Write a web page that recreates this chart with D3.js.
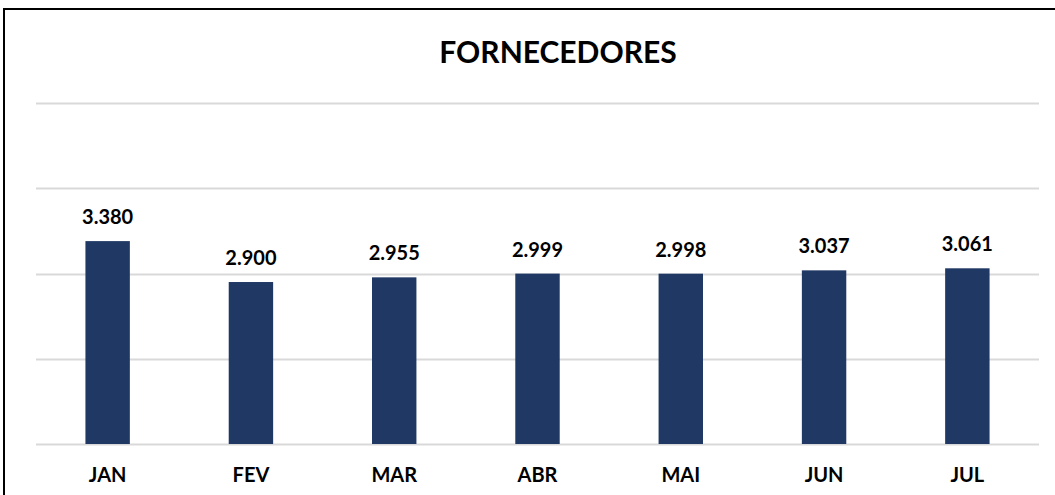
<!DOCTYPE html>
<html>
<head>
<meta charset="utf-8">
<script src="https://cdn.jsdelivr.net/npm/d3@7"></script>
<style>
	body { margin: 0; background: #fff; }
	svg text { font-family: Lato, "Open Sans", sans-serif; font-weight: bold; fill: #000; }
</style>
</head>
<body>
<svg id="chart" width="1055" height="495"></svg>
<script>
var months = ["JAN", "FEV", "MAR", "ABR", "MAI", "JUN", "JUL"];
var fornecedores = [3380, 2900, 2955, 2999, 2998, 3037, 3061];
var gridValues = [1000, 2000, 3000, 4000, 5000];

var svg = d3.select("#chart");

// frame
svg.append("rect")
	.attr("x", 4)
	.attr("y", 9)
	.attr("width", 1060)
	.attr("height", 500)
	.attr("fill", "none")
	.attr("stroke", "#000")
	.attr("stroke-width", 2);

var x = d3.scaleBand()
	.domain(months)
	.range([36, 1039])
	.paddingInner(0.69)
	.paddingOuter(0.345);

var y = d3.scaleLinear()
	.domain([1000, 5000])
	.range([444, 103]);

svg.append("text")
	.attr("x", 558)
	.attr("y", 63)
	.attr("text-anchor", "middle")
	.style("font-size", "30px")
	.text("FORNECEDORES");

svg.selectAll(".grid")
	.data(gridValues)
	.enter().append("line")
	.attr("class", "grid")
	.attr("x1", 36)
	.attr("x2", 1039)
	.attr("y1", function(d) { return Math.round(y(d)) + 0.5; })
	.attr("y2", function(d) { return Math.round(y(d)) + 0.5; })
	.attr("stroke", "#d9d9d9")
	.attr("stroke-width", 2);

svg.selectAll(".bar")
	.data(fornecedores)
	.enter().append("rect")
	.attr("class", "bar")
	.attr("x", function(d, i) { return x(months[i]); })
	.attr("y", function(d) { return y(d); })
	.attr("width", x.bandwidth())
	.attr("height", function(d) { return y(1000) - y(d); })
	.attr("fill", "#203864");

var fmt = function(v) { return d3.format(",")(v).replace(/,/g, "."); };

svg.selectAll(".val")
	.data(fornecedores)
	.enter().append("text")
	.attr("class", "val")
	.attr("x", function(d, i) { return x(months[i]) + x.bandwidth() / 2; })
	.attr("y", function(d) { return y(d) - 17; })
	.attr("text-anchor", "middle")
	.style("font-size", "20px")
	.text(fmt);

svg.selectAll(".month")
	.data(months)
	.enter().append("text")
	.attr("class", "month")
	.attr("x", function(d) { return x(d) + x.bandwidth() / 2; })
	.attr("y", 481.5)
	.attr("text-anchor", "middle")
	.style("font-size", "20px")
	.text(function(d) { return d; });
</script>
</body>
</html>
